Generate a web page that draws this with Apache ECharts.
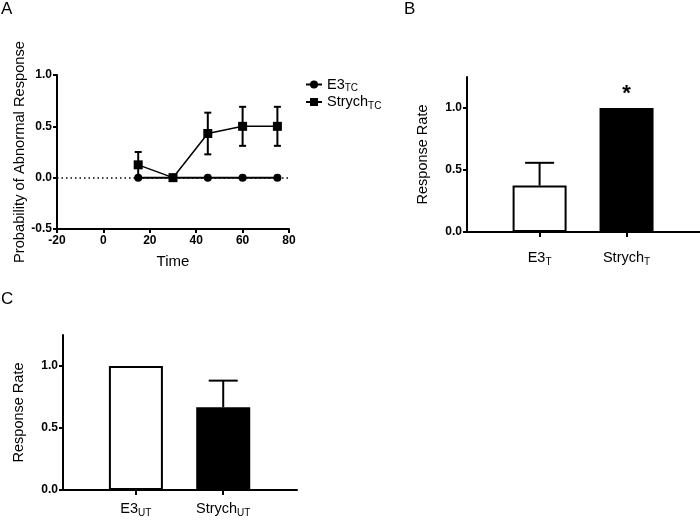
<!DOCTYPE html>
<html><head><meta charset="utf-8">
<script src="https://cdn.jsdelivr.net/npm/echarts@6/dist/echarts.min.js"></script>
<style>html,body{margin:0;padding:0;background:#fff}#c{width:700px;height:522px}</style>
</head><body><div id="c"></div>
<script>
// ---- Panel A data ----
const timeA = [15, 30, 45, 60, 75];
const e3TC = [0, 0, 0, 0, 0];
const strychTC = [0.125, 0, 0.43, 0.5, 0.5];
const strychTCErr = [0.125, 0, 0.203, 0.19, 0.19];
const xTicksA = [-20, 0, 20, 40, 60, 80];
const yTicksA = [-0.5, 0, 0.5, 1.0];
// ---- Panel B data ----
const catB = ['E3', 'Strych'];
const subB = 'T';
const valB = [0.375, 1.0];
const errB = [0.183, 0];
const sigB = ['', '*'];
// ---- Panel C data ----
const catC = ['E3', 'Strych'];
const subC = 'UT';
const valC = [1.0, 0.667];
const errC = [0, 0.215];
const yTicksBar = [0, 0.5, 1.0];

const FF = 'Liberation Sans, Arial, sans-serif';
const barPos = catB.map((_, i) => i + 1);

function axisCommon() {
  return {
    axisLine: {show: true, onZero: false, lineStyle: {color: '#000', width: 2}},
    axisTick: {show: true, inside: false, length: 4, lineStyle: {color: '#000', width: 2}},
    splitLine: {show: false},
    axisLabel: {color: '#000', fontFamily: FF, fontSize: 12, fontWeight: 'bold', margin: 6}
  };
}
const richSub = {
  base: {fontFamily: FF, fontSize: 14.5, color: '#000'},
  sub: {fontFamily: FF, fontSize: 10, color: '#000', padding: [8, 0, 0, 0]}
};

function errRender(halfCap, twoSided) {
  return function (params, api) {
    const x = api.value(0), m = api.value(1), e = api.value(2);
    if (!e) return {type: 'group', children: []};
    const top = api.coord([x, m + e]);
    const bot = twoSided ? api.coord([x, m - e]) : api.coord([x, m]);
    const st = {stroke: '#000', lineWidth: 2};
    const ch = [
      {type: 'line', shape: {x1: top[0], y1: top[1], x2: bot[0], y2: bot[1]}, style: st},
      {type: 'line', shape: {x1: top[0] - halfCap, y1: top[1], x2: top[0] + halfCap, y2: top[1]}, style: st}
    ];
    if (twoSided) ch.push({type: 'line', shape: {x1: bot[0] - halfCap, y1: bot[1], x2: bot[0] + halfCap, y2: bot[1]}, style: st});
    return {type: 'group', children: ch};
  };
}

const chart = echarts.init(document.getElementById('c'), null, {renderer: 'canvas'});
const barXAxis = (gi, cats, sub, margin) => Object.assign(axisCommon(), {
  type: 'value', gridIndex: gi, min: 0.165, max: 2.845,
  axisTick: {show: true, length: 5, customValues: barPos, lineStyle: {color: '#000', width: 2}},
  axisLabel: {customValues: barPos, margin: margin, formatter: v => '{base|' + cats[Math.round(v) - 1] + '}{sub|' + sub + '}', rich: richSub}
});
const barYAxis = (gi, gap) => {
  const a = axisCommon();
  a.axisTick.customValues = yTicksBar;
  a.axisLabel.customValues = yTicksBar;
  a.axisLabel.formatter = v => v.toFixed(1);
  a.axisLabel.margin = 5;
  return Object.assign(a, {
    type: 'value', gridIndex: gi, min: 0, max: 1.25,
    name: 'Response Rate', nameLocation: 'middle', nameRotate: 90, nameGap: gap,
    nameTextStyle: {fontFamily: FF, fontSize: 14.5, color: '#000'}
  });
};
const letterStyle = {fontFamily: FF, fontSize: 17, fontWeight: 'normal', color: '#000'};

const option = {
  animation: false,
  backgroundColor: '#fff',
  title: [
    {text: 'A', left: 1, top: 1, padding: 0, textStyle: letterStyle},
    {text: 'B', left: 404, top: 1, padding: 0, textStyle: letterStyle},
    {text: 'C', left: 1, top: 291, padding: 0, textStyle: letterStyle}
  ],
  grid: [
    {left: 57, top: 75, width: 232, height: 154},
    {left: 467, top: 77, width: 233, height: 155},
    {left: 63, top: 335, width: 234, height: 155}
  ],
  legend: {
    orient: 'vertical', left: 300, top: 72, itemWidth: 16, itemHeight: 10, itemGap: 1,
    data: ['E3', 'Strych'],
    formatter: n => '{base|' + n + '}{sub|TC}',
    textStyle: {rich: richSub}
  },
  xAxis: [
    Object.assign(axisCommon(), {
      type: 'value', gridIndex: 0, min: xTicksA[0], max: xTicksA[xTicksA.length - 1], interval: 20,
      name: 'Time', nameLocation: 'middle', nameGap: 25,
      nameTextStyle: {fontFamily: FF, fontSize: 15, color: '#000'}
    }),
    barXAxis(1, catB, subB, 17),
    barXAxis(2, catC, subC, 10)
  ],
  yAxis: [
    (() => { const a = axisCommon(); a.axisLabel.formatter = v => v.toFixed(1); a.axisLabel.margin = 5;
      return Object.assign(a, {type: 'value', gridIndex: 0, min: yTicksA[0], max: yTicksA[yTicksA.length - 1], interval: 0.5,
        name: 'Probability of Abnormal Response', nameLocation: 'middle', nameRotate: 90, nameGap: 29,
        nameTextStyle: {fontFamily: FF, fontSize: 14.7, color: '#000'}}); })(),
    barYAxis(1, 37),
    barYAxis(2, 37)
  ],
  series: [
    {
      name: 'E3', type: 'line', xAxisIndex: 0, yAxisIndex: 0,
      data: timeA.map((t, i) => [t, e3TC[i]]),
      symbol: 'circle', symbolSize: 8, itemStyle: {color: '#000'}, lineStyle: {color: '#000', width: 2},
      markLine: {silent: true, symbol: 'none', label: {show: false},
        lineStyle: {color: '#000', type: [1.5, 3], width: 1.5}, data: [{yAxis: 0}]},
      z: 3
    },
    {
      name: 'Strych', type: 'line', xAxisIndex: 0, yAxisIndex: 0,
      data: timeA.map((t, i) => [t, strychTC[i]]),
      symbol: 'rect', symbolSize: 9, itemStyle: {color: '#000'}, lineStyle: {color: '#000', width: 1.5},
      z: 4
    },
    {
      type: 'custom', xAxisIndex: 0, yAxisIndex: 0, z: 4,
      data: timeA.map((t, i) => [t, strychTC[i], strychTCErr[i]]),
      renderItem: errRender(3.5, true)
    },
    {
      type: 'bar', xAxisIndex: 1, yAxisIndex: 1, barWidth: 54,
      data: valB.map((v, i) => ({
        value: [barPos[i], v],
        itemStyle: {color: i === 0 ? '#fff' : '#000', borderColor: '#000', borderWidth: 2},
        label: {show: !!sigB[i], formatter: sigB[i], position: 'top', distance: 3,
          fontFamily: FF, fontSize: 22, fontWeight: 'bold', color: '#000'}
      }))
    },
    {
      type: 'custom', xAxisIndex: 1, yAxisIndex: 1, z: 3,
      data: valB.map((v, i) => [barPos[i], v, errB[i]]),
      renderItem: errRender(14.5, false)
    },
    {
      type: 'bar', xAxisIndex: 2, yAxisIndex: 2, barWidth: 54,
      data: valC.map((v, i) => ({
        value: [barPos[i], v],
        itemStyle: {color: i === 0 ? '#fff' : '#000', borderColor: '#000', borderWidth: 2}
      }))
    },
    {
      type: 'custom', xAxisIndex: 2, yAxisIndex: 2, z: 3,
      data: valC.map((v, i) => [barPos[i], v, errC[i]]),
      renderItem: errRender(14.5, false)
    }
  ]
};
chart.setOption(option);
</script>
</body></html>
